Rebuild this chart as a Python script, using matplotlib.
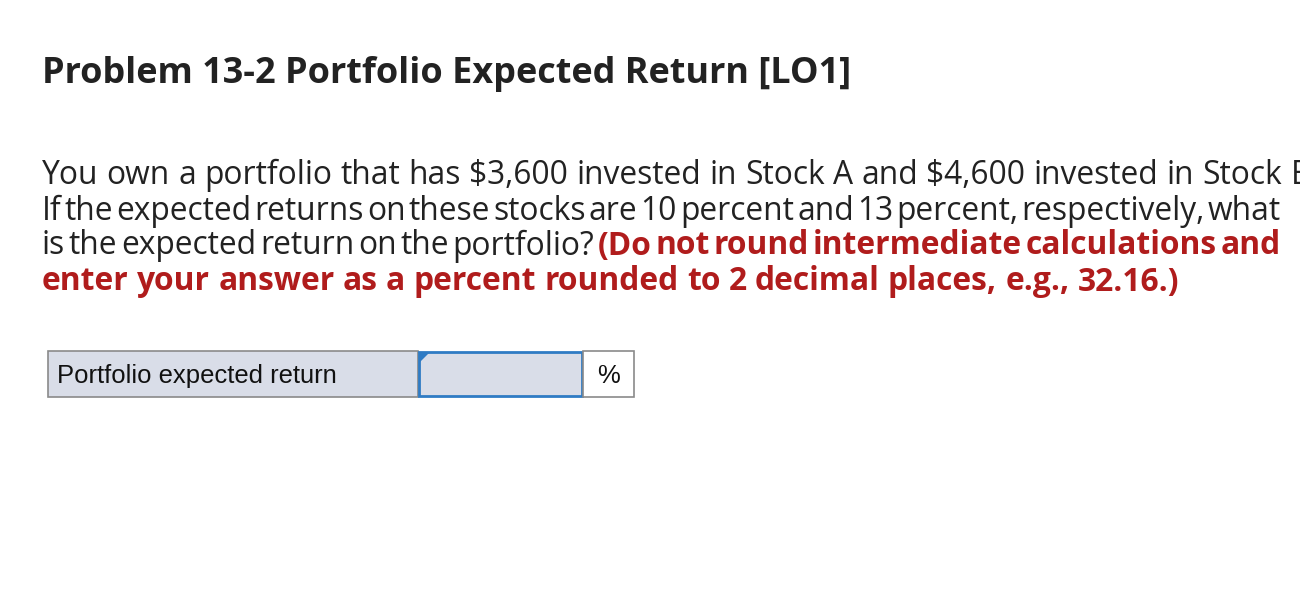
import matplotlib
matplotlib.use("Agg")
import matplotlib.pyplot as plt
from matplotlib.patches import Rectangle, Polygon

title = "Problem 13-2 Portfolio Expected Return [LO1]"
body_lines = [
    ("You own a portfolio that has $3,600 invested in Stock A and $4,600 invested in Stock B.", None, False),
    ("If the expected returns on these stocks are 10 percent and 13 percent, respectively, what", None, True),
    ("is the expected return on the portfolio?", "(Do not round intermediate calculations and", True),
    (None, "enter your answer as a percent rounded to 2 decimal places, e.g., 32.16.)", False),
]
row_label = "Portfolio expected return"
unit = "%"

fig = plt.figure(figsize=(13, 5.9), dpi=100)
ax = fig.add_axes([0, 0, 1, 1])
ax.set_xlim(0, 1300); ax.set_ylim(590, 0); ax.axis("off")
FONT = "Open Sans"
RED = "#b01c1c"
fig.canvas.draw()
r = fig.canvas.get_renderer()
def width(s, **kw):
    t = ax.text(0, 0, s, **kw); w = t.get_window_extent(r).width; t.remove(); return w
def fit(s, target, **kw):
    return 10 * target / width(s, fontsize=10, **kw)

tfs = fit(title, 810, family=FONT, fontweight="bold")
ax.text(42, 74, title, fontsize=tfs, fontweight="bold", family=FONT, color="#222222", va="center")

bfs = fit(body_lines[0][0], 1236, family=FONT)
ys = [175, 211, 246, 282]
x0, x1 = 42, 1281
for y, (plain, bold, just) in zip(ys, body_lines):
    words = []
    if plain:
        words += [(w, dict(color="#222222")) for w in plain.split()]
    if bold:
        words += [(w, dict(color=RED, fontweight="bold")) for w in bold.split()]
    kws = [dict(fontsize=bfs, family=FONT, **k) for _, k in words]
    ws = [width(w, **k) for (w, _), k in zip(words, kws)]
    sp = width("a b", fontsize=bfs, family=FONT) - width("ab", fontsize=bfs, family=FONT)
    if just:
        sp = (x1 - x0 - sum(ws)) / (len(ws) - 1)
    x = x0
    for (w, _), k, wd in zip(words, kws, ws):
        ax.text(x, y, w, va="center", **k)
        x += wd + sp

ax.add_patch(Rectangle((48, 351), 370, 46, facecolor="#d9dde8", edgecolor="#8a8a8a", lw=1.2))
ax.add_patch(Rectangle((419, 352), 163, 44, facecolor="#d9dde8", edgecolor="#2f7bc4", lw=2))
ax.add_patch(Polygon([[420, 352], [430, 352], [420, 362]], closed=True, facecolor="#2f7bc4", edgecolor="none"))
ax.add_patch(Rectangle((583, 351), 51, 46, facecolor="white", edgecolor="#8a8a8a", lw=1.2))
lfs = fit(row_label, 281, family="Liberation Sans")
ax.text(57, 376, row_label, fontsize=lfs, family="Liberation Sans", va="center", color="#111111")
ax.text(608, 376, unit, fontsize=lfs, family="Liberation Sans", va="center", ha="center", color="#111111")

fig.savefig("out.png", dpi=100)
